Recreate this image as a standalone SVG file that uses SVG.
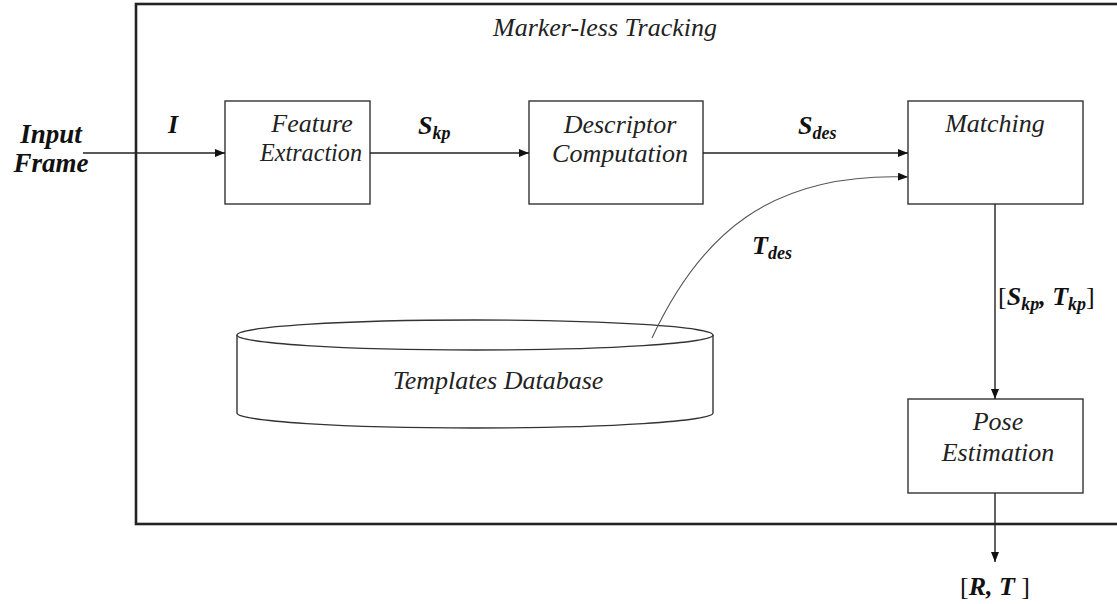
<svg xmlns="http://www.w3.org/2000/svg" width="1117" height="604" viewBox="0 0 1117 604">
  <style>
    .box { fill: #fff; stroke: #333; stroke-width: 1.4; }
    .frame { fill: none; stroke: #222; stroke-width: 2.6; }
    .lbl { font-family: "Liberation Serif", "Times New Roman", "DejaVu Serif", serif; font-style: italic; font-size: 26px; fill: #222; text-anchor: middle; }
    .math { font-family: "Liberation Serif", "Times New Roman", "DejaVu Serif", serif; font-style: italic; font-weight: bold; font-size: 26px; fill: #111; }
    .big { font-size: 27px; }
    .sub { font-size: 18px; }
    .up { font-weight: normal; font-style: normal; }
    .wire { fill: none; stroke: #222; stroke-width: 1.4; }
    .thin { fill: none; stroke: #555; stroke-width: 1.1; }
  </style>
  <defs>
    <marker id="arr" markerWidth="10" markerHeight="8" refX="10" refY="4" orient="auto" markerUnits="userSpaceOnUse">
      <path d="M0,0 L10,4 L0,8 Z" fill="#111"/>
    </marker>
  </defs>
  <rect width="1117" height="604" fill="#fff"/>

  <!-- outer tracking frame -->
  <g id="frame">
    <rect class="frame" x="136" y="4" width="990" height="520"/>
    <text class="lbl" x="605" y="36">Marker-less Tracking</text>
  </g>

  <g id="input">
    <text class="math big" x="51" y="143" text-anchor="middle">Input</text>
    <text class="math big" x="51" y="172" text-anchor="middle">Frame</text>
  </g>

  <g id="feature">
    <rect class="box" x="225" y="101" width="145" height="103"/>
    <text class="lbl" x="312" y="132">Feature</text>
    <text class="lbl" x="311" y="161" textLength="102" lengthAdjust="spacingAndGlyphs">Extraction</text>
  </g>

  <g id="descriptor">
    <rect class="box" x="529" y="101" width="174" height="103"/>
    <text class="lbl" x="620" y="133">Descriptor</text>
    <text class="lbl" x="620" y="162">Computation</text>
  </g>

  <g id="matching">
    <rect class="box" x="908" y="101" width="175" height="103"/>
    <text class="lbl" x="995" y="132">Matching</text>
  </g>

  <g id="pose">
    <rect class="box" x="908" y="399" width="175" height="94"/>
    <text class="lbl" x="998" y="430">Pose</text>
    <text class="lbl" x="998" y="461">Estimation</text>
  </g>

  <g id="database">
    <path class="box" d="M237,335 L237,413 A238,15 0 0 0 713,413 L713,335"/>
    <ellipse class="box" cx="475" cy="335" rx="238" ry="15"/>
    <text class="lbl" x="498" y="389">Templates Database</text>
  </g>

  <g id="connectors">
    <path class="wire" d="M83,153 H225" marker-end="url(#arr)"/>
    <path class="wire" d="M370,153 H529" marker-end="url(#arr)"/>
    <path class="wire" d="M703,153 H908" marker-end="url(#arr)"/>
    <path class="thin" d="M652,338 C700,235 770,172 908,177" marker-end="url(#arr)"/>
    <path class="wire" d="M995,204 V399" marker-end="url(#arr)"/>
    <path class="wire" d="M995,493 V562" marker-end="url(#arr)"/>
  </g>

  <g id="labels">
    <text class="math" x="168" y="133">I</text>
    <text class="math" x="418" y="134">S<tspan class="sub" dy="5">kp</tspan></text>
    <text class="math" x="798" y="134">S<tspan class="sub" dy="5">des</tspan></text>
    <text class="math" x="752" y="254">T<tspan class="sub" dy="5">des</tspan></text>
    <text class="math" x="998" y="305"><tspan class="up">[</tspan>S<tspan class="sub" dy="5">kp</tspan><tspan dy="-5">, T</tspan><tspan class="sub" dy="5">kp</tspan><tspan class="up" dy="-5">]</tspan></text>
    <text class="math" x="995" y="595" text-anchor="middle"><tspan class="up">[</tspan>R, T<tspan class="up"> ]</tspan></text>
  </g>
</svg>
